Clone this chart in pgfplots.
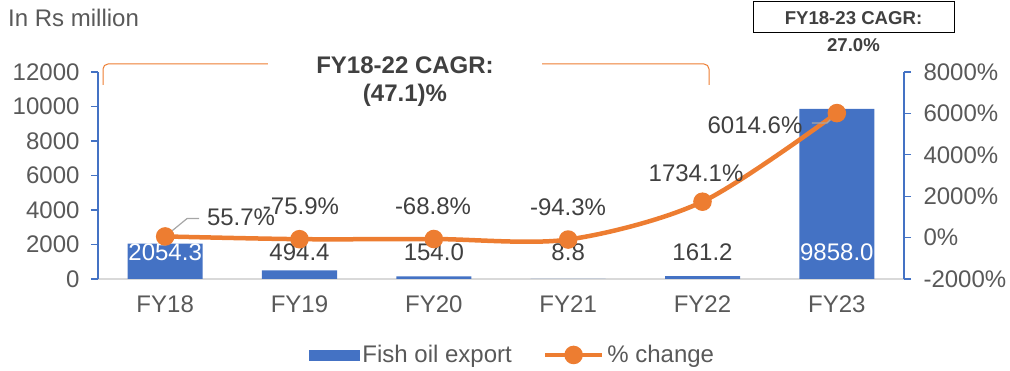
\documentclass[border=0pt]{standalone}
\usepackage{pgfplots}
\pgfplotsset{compat=1.18}
\usepackage{fontspec}
\setmainfont{Liberation Sans}

\definecolor{barblue}{HTML}{4472C4}
\definecolor{lineorange}{HTML}{ED7D31}
\definecolor{ticktext}{HTML}{595959}
\definecolor{labeltext}{HTML}{404040}
\definecolor{baseline}{HTML}{D9D9D9}
\definecolor{leader}{HTML}{A6A6A6}

\newcommand{\chartfont}{\fontsize{24}{28}\selectfont}
\newcommand{\notefont}{\fontsize{18.6}{22}\selectfont\bfseries}

% Fish oil export, Rs million
\pgfplotstableread{
x  export
0  2054.3
1  494.4
2  154.0
3  8.8
4  161.2
5  9858.0
}\exporttable

% year-on-year change, %
\pgfplotstableread{
x  change
0  55.7
1  -75.9
2  -68.8
3  -94.3
4  1734.1
5  6014.6
}\changetable

\pgfplotsset{
  base/.style={
    scale only axis, width=806pt, height=207pt,
    at={(98pt,92pt)}, anchor=south west,
    xmin=-0.5, xmax=5.5,
    xtick={0,...,5}, xticklabels={FY18,FY19,FY20,FY21,FY22,FY23},
    tick label style={font=\chartfont, text=ticktext},
    xticklabel style={yshift=-6pt},
    scaled y ticks=false,
    /pgf/number format/assume math mode=true,
    /pgf/number format/1000 sep={},
    major tick length=7pt, tick align=outside,
    clip=false,
  },
}
\tikzset{lbl/.style={font=\chartfont, text=labeltext, inner sep=0pt}}

\begin{document}
\begin{tikzpicture}[x=1pt,y=1pt]
\path[use as bounding box] (0,0) rectangle (1010,371);

% unit note
\node[anchor=west, font=\chartfont, text=ticktext, inner sep=0pt] at (8,353) {In Rs million};

% FY18-22 bracket
\draw[lineorange, line width=1pt, rounded corners=5pt] (103,286) |- (709,307) -- (709,286);
\fill[white] (268,294) rectangle (542,318);
\node[font=\fontsize{24}{28}\selectfont\bfseries, text=labeltext, inner sep=0pt] at (405,306) {FY18-22 CAGR:};
\node[font=\fontsize{24}{28}\selectfont\bfseries, text=labeltext, inner sep=0pt] at (405,276) {(47.1)\%};

% FY18-23 box
\draw[line width=1pt, black] (753,338) rectangle (954,369);
\node[font=\notefont, text=labeltext, inner sep=0pt] at (853.5,353) {FY18-23 CAGR:};
\node[font=\notefont, text=labeltext, inner sep=0pt] at (853.5,326) {27.0\%};

% bars, left axis
\begin{axis}[base,
  axis x line*=bottom, axis y line*=left,
  x axis line style={-, draw=baseline, line width=1.3pt},
  y axis line style={-, draw=barblue, line width=1.3pt},
  xtick style={draw=none},
  ytick style={draw=barblue, line width=1.3pt},
  ymin=0, ymax=12000, ytick={0,2000,...,12000},
  yticklabel style={xshift=-8pt},
  ybar, bar width=75pt,
]
\addplot[fill=barblue, draw=none] table[x=x, y=export] {\exporttable};
\node[lbl, text=white] at (axis cs:0,1565) {2054.3};
\node[lbl] at (axis cs:1,1565) {494.4};
\node[lbl] at (axis cs:2,1565) {154.0};
\node[lbl] at (axis cs:3,1565) {8.8};
\node[lbl] at (axis cs:4,1565) {161.2};
\node[lbl, text=white] at (axis cs:5,1565) {9858.0};
\end{axis}

% change line, right axis
\begin{axis}[base,
  axis x line=none, axis y line*=right,
  y axis line style={-, draw=barblue, line width=1.3pt},
  ytick style={draw=barblue, line width=1.3pt},
  ymin=-2000, ymax=8000, ytick={-2000,0,...,8000},
  yticklabel={\pgfmathprintnumber{\tick}\%},
  yticklabel style={xshift=9pt},
  legend columns=2,
  legend style={at={(0.515,-0.367)}, anchor=center, draw=none, fill=none,
    font=\chartfont, text=ticktext,
    nodes={inner sep=3pt},
    /tikz/every even column/.append style={column sep=28pt}},
]
\addlegendimage{legend image code/.code={\fill[barblue] (0pt,-5pt) rectangle (50pt,5pt);}}
\addlegendentry{Fish oil export}
\addplot[lineorange, line width=4.5pt, smooth, mark=*, mark size=7pt,
  mark options={fill=lineorange, draw=none},
  legend image code/.code={\draw[lineorange, line width=4.5pt] (0pt,0pt) -- (57pt,0pt);
    \fill[lineorange] (28.5pt,0pt) circle (7pt);}]
  table[x=x, y=change] {\changetable};
\addlegendentry{\% change}

% leader lines
\draw[leader, line width=1.2pt] (axis cs:0,55.7) -- ++(22pt,18pt) -- ++(12pt,0pt);
\draw[leader, line width=1.2pt] (axis cs:5,6014.6) -- ++(-10pt,-10pt) -- ++(-15pt,0pt);

\node[lbl] at (axis cs:0.565,995) {55.7\%};
\node[lbl] at (axis cs:1.011,1527) {-75.9\%};
\node[lbl] at (axis cs:1.994,1527) {-68.8\%};
\node[lbl] at (axis cs:2.999,1478) {-94.3\%};
\node[lbl] at (axis cs:3.952,3121) {1734.1\%};
\node[lbl] at (axis cs:4.391,5440) {6014.6\%};
\end{axis}
\end{tikzpicture}
\end{document}
